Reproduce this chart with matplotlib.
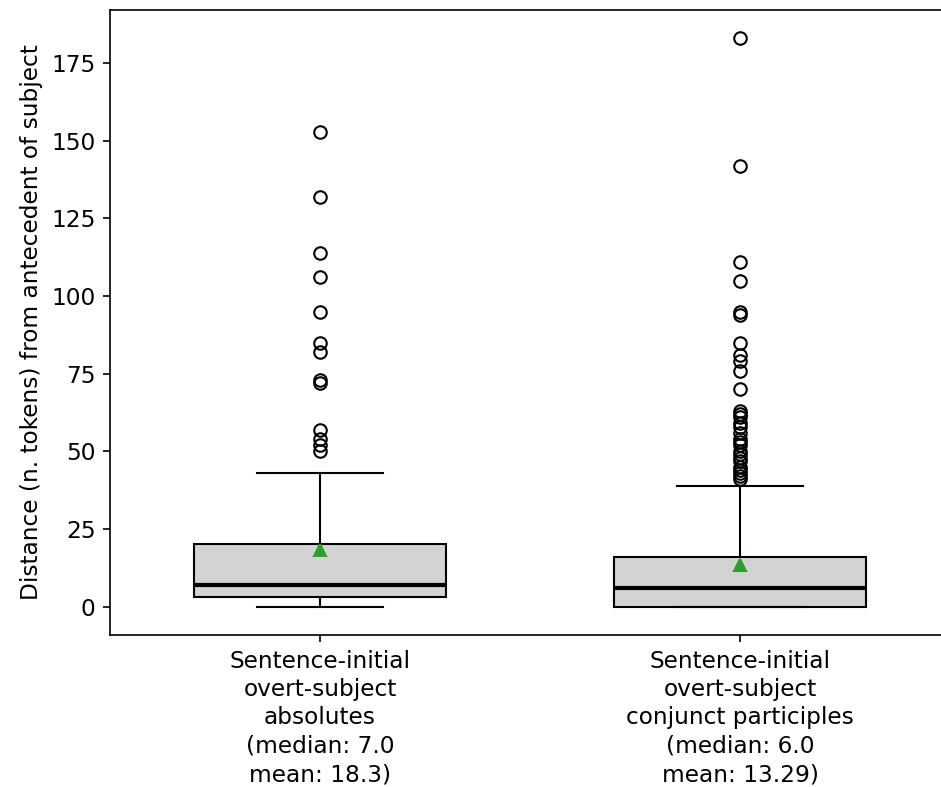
import matplotlib
matplotlib.use('Agg')
import matplotlib.pyplot as plt

# Values
labels = [
    "Sentence-initial\novert-subject\nabsolutes\n(median: 7.0\nmean: 18.3)",
    "Sentence-initial\novert-subject\nconjunct participles\n(median: 6.0\nmean: 13.29)",
]
medians = [7.0, 6.0]
means = [18.3, 13.29]
q1s = [3, 0]
q3s = [20, 16]
whis_lo = [0, 0]
whis_hi = [43, 39]
fliers_abs = [153, 132, 114, 106, 95, 85, 82, 73, 72, 57, 54, 52, 50]
fliers_conj = [183, 142, 111, 105, 95, 94, 85, 81, 79, 76, 70, 63, 62, 61,
               59, 58, 56, 54, 53, 52, 50, 49, 48, 47, 45, 44, 43, 42, 41]
fliers = [fliers_abs, fliers_conj]

stats = []
for i in range(len(labels)):
    stats.append({
        'label': labels[i],
        'med': medians[i],
        'mean': means[i],
        'q1': q1s[i],
        'q3': q3s[i],
        'whislo': whis_lo[i],
        'whishi': whis_hi[i],
        'fliers': fliers[i],
    })

plt.rcParams['font.size'] = 11.2

fig = plt.figure(figsize=(941 / 150, 787 / 150), dpi=150)
# axes runs a little past the right edge, like the cropped original
ax = fig.add_axes([110 / 941, 152 / 787, 840 / 941, 625 / 787])

ax.bxp(stats, widths=0.6, showmeans=True, patch_artist=True,
       boxprops=dict(facecolor='lightgrey', edgecolor='black'),
       medianprops=dict(color='black', linewidth=2))

ax.set_ylabel("Distance (n. tokens) from antecedent of subject")
ax.set_xlim(0.5, 2.5)
for t in ax.get_xticklabels():
    t.set_linespacing(1.3)

fig.savefig('out.png', dpi=150)
